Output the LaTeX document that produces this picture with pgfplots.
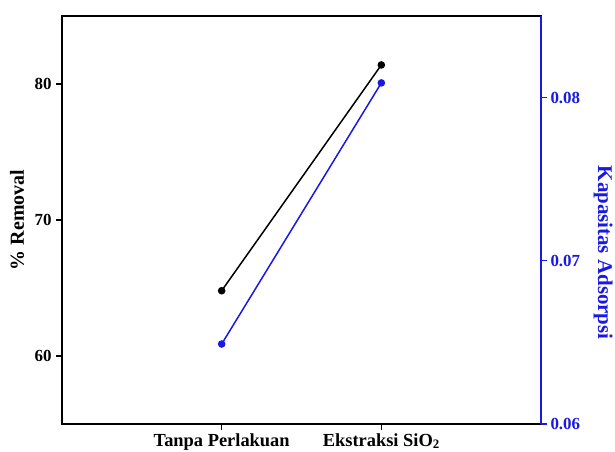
\documentclass[border=0pt]{standalone}
\usepackage{pgfplots}
\pgfplotsset{compat=1.18}
\usepackage{fontspec}
\setmainfont{Liberation Serif}
\definecolor{myblue}{RGB}{25,25,230}
\begin{document}
\begin{tikzpicture}[font=\fontsize{17}{19}\selectfont\bfseries]
\begin{axis}[name=ax1, scale only axis, width=479bp, height=408bp,
  xmin=0, xmax=3, ymin=55, ymax=85,
  xtick={1,2}, xticklabels={Tanpa Perlakuan, Ekstraksi SiO\textsubscript{2}},
  ytick={60,70,80},
  xtick pos=bottom, ytick pos=left, tick align=outside,
  major tick length=6bp,
  axis line style={line width=1.5bp},
  every tick/.style={black, line width=1.4bp},
  /pgf/number format/assume math mode=true,
  every tick label/.append style={font=\fontsize{17}{19}\selectfont\bfseries},
  xticklabel style={font=\fontsize{18.5}{20}\selectfont\bfseries},
  yticklabel style={xshift=-1bp},
  ylabel={\% Removal},
  ylabel style={at={(axis description cs:-0.094,0.5)}, anchor=center, font=\fontsize{20}{22}\selectfont\bfseries},
]
\addplot[black, line width=1.5bp, mark=*, mark size=3bp] coordinates {(1,64.8) (2,81.4)};
\end{axis}
\begin{axis}[scale only axis, width=479bp, height=408bp,
  xmin=0, xmax=3, ymin=0.06, ymax=0.085,
  axis x line=none, axis y line*=right,
  ytick={0.06,0.07,0.08}, yticklabels={0.06,0.07,0.08}, scaled y ticks=false,
  tick align=outside, major tick length=6bp,
  axis line style={myblue, line width=1.5bp},
  every tick/.style={myblue, line width=1.4bp},
  every tick label/.append style={font=\fontsize{17}{19}\selectfont\bfseries, text=myblue},
  ylabel={Kapasitas Adsorpsi},
  ylabel style={at={(axis description cs:1.130,0.42)}, anchor=center, rotate=180, text=myblue, font=\fontsize{21}{23}\selectfont\bfseries},
]
\addplot[myblue, line width=1.5bp, mark=*, mark size=3bp] coordinates {(1,0.0649) (2,0.0809)};
\end{axis}
\pgfresetboundingbox
\path[use as bounding box] ([shift={(-62bp,-28bp)}]ax1.south west) rectangle ([shift={(74bp,16bp)}]ax1.north east);
\end{tikzpicture}
\end{document}
